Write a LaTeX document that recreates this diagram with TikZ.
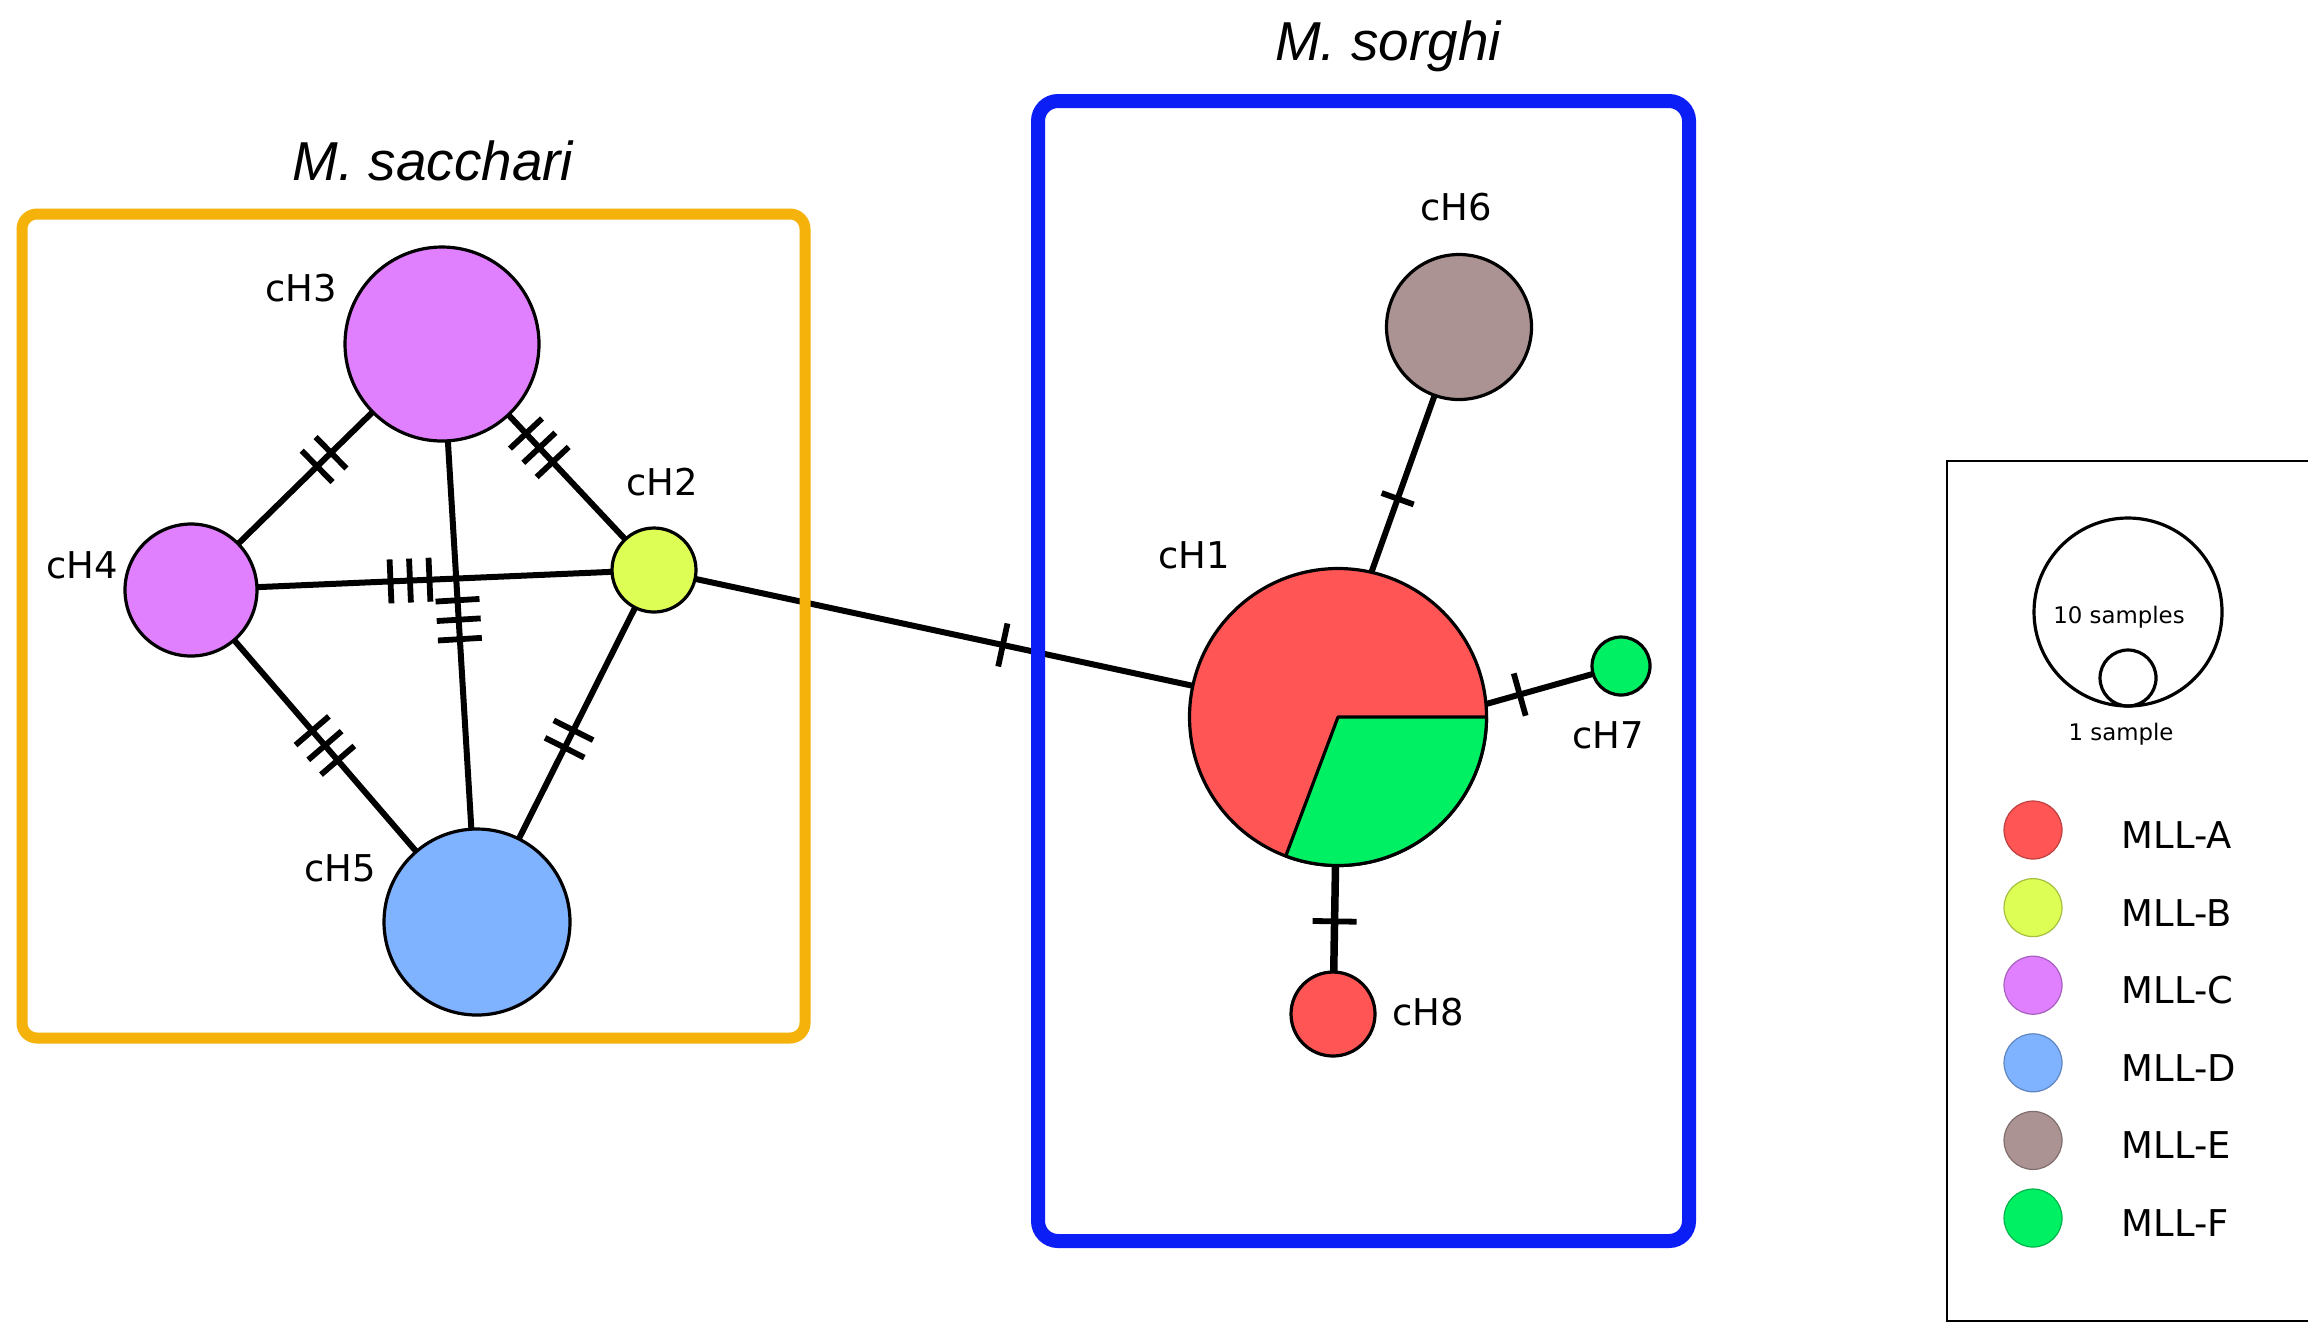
\documentclass[tikz,border=0pt]{standalone}
\usepackage{fontspec}
\setmainfont{DejaVu Sans}
\newfontfamily\ttlfont{Liberation Sans}
\usetikzlibrary{decorations.markings}
\definecolor{mllA}{HTML}{FF5555}
\definecolor{mllB}{HTML}{DDFF55}
\definecolor{mllC}{HTML}{E080FF}
\definecolor{mllD}{HTML}{80B3FF}
\definecolor{mllE}{HTML}{AC9393}
\definecolor{mllF}{HTML}{00F064}
\definecolor{boxorange}{HTML}{F5B20A}
\definecolor{boxblue}{HTML}{0A1EF5}
\tikzset{
  hap/.style={circle, draw=black, line width=0.32mm, inner sep=0pt, outer sep=0pt},
  lbl/.style={font=\fontsize{10.5pt}{12pt}\selectfont, inner sep=0pt},
  ttl/.style={font=\ttlfont\itshape\fontsize{15.6pt}{18pt}\selectfont, anchor=base, inner sep=0pt},
  edge/.style={line width=0.6mm, draw=black},
  ticklen/.store in=\ticklen, ticklen=2.2mm,
  mut/.style 2 args={decoration={markings, mark=at position #1 with {\foreach \k in {1,...,#2}{\draw[line width=0.58mm] ({(\k-(#2+1)/2)*1.95mm},-\ticklen) -- ({(\k-(#2+1)/2)*1.95mm},\ticklen);}}}, decorate},
  legdot/.style={circle, inner sep=0pt, outer sep=0pt, minimum size=5.8mm, line width=0.12mm},
  legtxt/.style={font=\fontsize{10.5pt}{12pt}\selectfont, anchor=base west, inner sep=0pt},
  smalltxt/.style={font=\fontsize{6.5pt}{8pt}\selectfont, anchor=base, inner sep=0pt}
}
\begin{document}
\begin{tikzpicture}[x=0.1mm, y=-0.1mm]
\useasboundingbox (0,0) rectangle (2308,1323);
\fill[white] (0,0) rectangle (2308,1323);
\clip (0,0) rectangle (2308,1323);

% haplotype nodes
\node[hap, fill=mllC, minimum size=19.4mm] (cH3) at (442,344) {};
\node[hap, fill=mllC, minimum size=13.2mm] (cH4) at (191,590) {};
\node[hap, fill=mllB, minimum size=8.4mm] (cH2) at (654,570) {};
\node[hap, fill=mllD, minimum size=18.6mm] (cH5) at (477,922) {};
\node[hap, fill=mllA, minimum size=29.7mm] (cH1) at (1338,717) {};
\node[hap, fill=mllE, minimum size=14.5mm] (cH6) at (1459,327) {};
\node[hap, fill=mllF, minimum size=5.8mm] (cH7) at (1621,666) {};
\node[hap, fill=mllA, minimum size=8.4mm] (cH8) at (1333,1014) {};

% pie slice of cH1
\filldraw[fill=mllF, draw=black, line width=0.32mm, line join=round] (cH1.center) -- (cH1.0) arc[start angle=0, end angle=-110.6, radius=14.85mm] -- cycle;

% edges
\draw[edge] (cH3) -- (cH4);
\draw[edge] (cH3) -- (cH2);
\draw[edge] (cH4) -- (cH2);
\draw[edge] (cH3) -- (cH5);
\draw[edge] (cH4) -- (cH5);
\draw[edge] (cH2) -- (cH5);
\draw[edge] (cH2) -- (cH1);
\draw[edge] (cH1.77) -- (cH6);
\draw[edge] (cH1.5) -- (cH7);
\draw[edge, line width=0.75mm] (cH1) -- (cH8);

% mutation ticks
\path[mut={0.47}{2}] (cH3.center) -- (cH4.center);
\path[mut={0.46}{3}] (cH3.center) -- (cH2.center);
\path[mut={0.473}{3}] (cH4.center) -- (cH2.center);
\path[mut={0.477}{3}] (cH3.center) -- (cH5.center);
\path[mut={0.47}{3}] (cH4.center) -- (cH5.center);
\path[mut={0.48}{2}] (cH2.center) -- (cH5.center);
\path[mut={0.51}{1}] (cH2.center) -- (cH1.center);
\path[ticklen=1.7mm, mut={0.30}{1}] (cH1.77) -- (cH6.center);
\path[mut={0.25}{1}] (cH1.5) -- (cH7.center);
\path[mut={0.688}{1}] (cH1.center) -- (cH8.center);

% group boxes
\draw[draw=boxorange, line width=1.1mm, rounded corners=1.5mm] (22,214) rectangle (805,1038);
\draw[draw=boxblue, line width=1.4mm, rounded corners=2mm] (1038,101) rectangle (1689,1241);
\node[ttl] (tsac) at (433,180) {M. sacchari};
\node[ttl] (tsor) at (1388,60) {M. sorghi};

% labels
\node[lbl] (lH3) at (301,288) {cH3};
\node[lbl] (lH2) at (662,482) {cH2};
\node[lbl] (lH4) at (82,565) {cH4};
\node[lbl] (lH5) at (340,868) {cH5};
\node[lbl] (lH1) at (1194,555) {cH1};
\node[lbl] (lH6) at (1456,207) {cH6};
\node[lbl] (lH7) at (1608,735) {cH7};
\node[lbl] (lH8) at (1428,1012) {cH8};

% legend
\draw[line width=0.28mm] (1947,461) rectangle (2309,1321);
\node[circle, draw, line width=0.32mm, inner sep=0pt, outer sep=0pt, minimum size=18.8mm] (big) at (2128,612) {};
\node[circle, draw, line width=0.32mm, inner sep=0pt, outer sep=0pt, minimum size=5.6mm] (sml) at (2128,678) {};
\node[smalltxt] (t10) at (2119,623) {10 samples};
\node[smalltxt] (t1) at (2121,740) {1 sample};
\foreach \c/\t [count=\i from 0] in {mllA/MLL-A, mllB/MLL-B, mllC/MLL-C, mllD/MLL-D, mllE/MLL-E, mllF/MLL-F} {
  \node[legdot, fill=\c, draw=\c!75!black] (dot\i) at (2033,{830+77.6*\i}) {};
  \node[legtxt] (txt\i) at (2121,{848.5+77.6*\i}) {\t};
}
\end{tikzpicture}
\end{document}
